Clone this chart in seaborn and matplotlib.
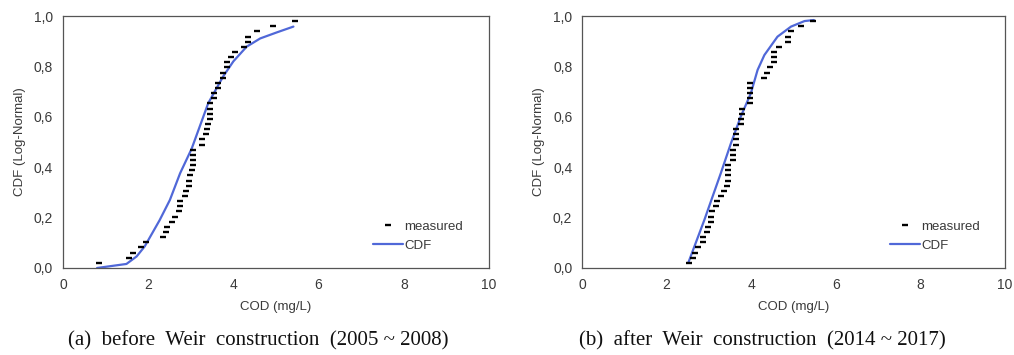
import matplotlib
matplotlib.use("Agg")
import matplotlib.pyplot as plt
import seaborn as sns
import numpy as np
import pandas as pd
from matplotlib.lines import Line2D

# ---------------- data ----------------
plot_pos = [i / 49 for i in range(1, 49)]  # plotting positions of the 48 measured values

before_measured = [0.85, 1.55, 1.65, 1.84, 1.95, 2.35, 2.43, 2.45, 2.55, 2.63,
                   2.72, 2.75, 2.75, 2.86, 2.88, 2.96, 2.96, 2.98, 3.04, 3.06,
                   3.06, 3.06, 3.06, 3.27, 3.27, 3.35, 3.37, 3.40, 3.45, 3.45,
                   3.45, 3.45, 3.54, 3.54, 3.65, 3.65, 3.75, 3.75, 3.84, 3.84,
                   3.95, 4.04, 4.26, 4.35, 4.35, 4.55, 4.94, 5.45]
before_cdf_x = [0.80, 1.49, 1.73, 1.92, 2.27, 2.51, 2.75, 3.02, 3.41, 3.76,
                4.00, 4.31, 4.63, 5.02, 5.41]
before_cdf_y = [0.000, 0.016, 0.046, 0.086, 0.190, 0.270, 0.376, 0.473, 0.654, 0.760,
                0.820, 0.878, 0.911, 0.935, 0.958]

after_measured = [2.53, 2.62, 2.68, 2.75, 2.85, 2.87, 2.95, 2.98, 3.04, 3.06,
                  3.07, 3.16, 3.20, 3.28, 3.36, 3.42, 3.44, 3.45, 3.46, 3.46,
                  3.56, 3.56, 3.56, 3.65, 3.65, 3.65, 3.65, 3.75, 3.75, 3.77,
                  3.77, 3.96, 3.96, 3.96, 3.96, 3.96, 4.30, 4.37, 4.45, 4.54,
                  4.54, 4.54, 4.66, 4.86, 4.86, 4.94, 5.17, 5.45]
after_cdf_x = [2.51, 2.89, 3.28, 3.52, 3.75, 3.99, 4.15, 4.31, 4.62, 4.94, 5.26, 5.48]
after_cdf_y = [0.020, 0.190, 0.376, 0.495, 0.600, 0.693, 0.786, 0.845, 0.918, 0.958, 0.980, 0.984]

x_ticks = [0, 2, 4, 6, 8, 10]
y_ticks = [0.0, 0.2, 0.4, 0.6, 0.8, 1.0]
y_tick_labels = ["0,0", "0,2", "0,4", "0,6", "0,8", "1,0"]
x_label = "COD (mg/L)"
y_label = "CDF (Log-Normal)"
captions = ["(a)  before  Weir  construction  (2005 ~ 2008)",
            "(b)  after  Weir  construction  (2014 ~ 2017)"]
caption_x = [0.2545, 0.7515]

# ---------------- styling ----------------
sns.set_theme(style="white")
plt.rcParams["font.family"] = ["Liberation Sans", "DejaVu Sans"]

fig = plt.figure(figsize=(10.14, 3.55), dpi=100)
ax1 = fig.add_axes([0.0621, 0.2451, 0.4201, 0.7098])
ax2 = fig.add_axes([0.5740, 0.2451, 0.4172, 0.7098])

line_color = "#5068d8"
txt_color = "#3a3a3a"
panels = [
    (ax1, before_measured, before_cdf_x, before_cdf_y, captions[0], caption_x[0]),
    (ax2, after_measured, after_cdf_x, after_cdf_y, captions[1], caption_x[1]),
]

for ax, meas, cx, cy, cap, capx in panels:
    dm = pd.DataFrame({"x": meas, "y": plot_pos})
    dc = pd.DataFrame({"x": cx, "y": cy})
    sns.lineplot(data=dc, x="x", y="y", ax=ax, color=line_color, linewidth=1.6,
                 sort=False, zorder=2)
    sns.scatterplot(data=dm, x="x", y="y", ax=ax, marker="_", s=18,
                    color="black", linewidth=1.7, zorder=3)
    ax.set_xlim(0, 10)
    ax.set_ylim(0, 1.0)
    ax.set_xticks(x_ticks)
    ax.set_xticklabels([str(t) for t in x_ticks])
    ax.set_yticks(y_ticks)
    ax.set_yticklabels(y_tick_labels)
    ax.tick_params(direction="in", length=4, width=0.8, colors="#404040",
                   labelsize=10, labelcolor=txt_color, pad=7)
    for sp in ax.spines.values():
        sp.set_color("#555555")
        sp.set_linewidth(0.9)
    ax.set_xlabel(x_label, fontsize=9.5, color=txt_color, labelpad=7)
    ax.set_ylabel(y_label, fontsize=9.5, color=txt_color, labelpad=6)
    handles = [
        Line2D([], [], linestyle="", marker="_", color="black", markersize=4.5,
               markeredgewidth=1.7),
        Line2D([], [], color=line_color, linewidth=1.6),
    ]
    ax.legend(handles, ["measured", "CDF"], loc="lower left",
              bbox_to_anchor=(0.728, 0.063), frameon=False, fontsize=9.5,
              borderpad=0, borderaxespad=0,
              handlelength=2.27, handletextpad=0.08, labelspacing=0.55,
              labelcolor=txt_color)
    fig.text(capx, 0.040, cap, ha="center", va="center",
             fontsize=15, family=["Liberation Serif", "DejaVu Serif"], color="#111111")

fig.savefig("out.png", dpi=100)
